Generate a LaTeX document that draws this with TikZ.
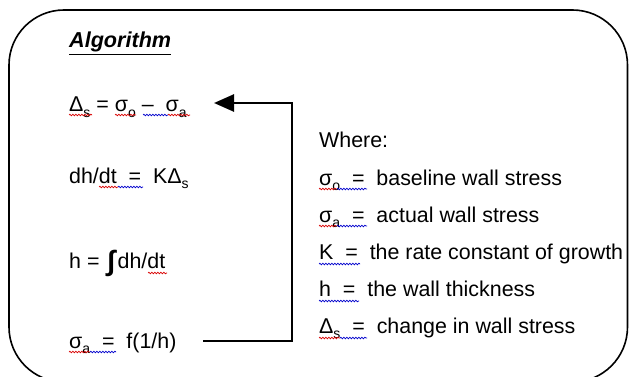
\documentclass[tikz,border=0pt]{standalone}
\usepackage{fontspec}
\setmainfont{Liberation Sans}
\usetikzlibrary{decorations.pathmorphing,arrows.meta}
\newcommand{\sbs}[1]{\raisebox{-0.25em}{\fontsize{14}{14}\selectfont #1}}
\newcommand{\bigint}{\hspace{2pt}\raisebox{-0.12em}{\fontsize{28}{28}\selectfont\bfseries ∫}\hspace{2.5pt}}
\tikzset{
  txt/.style={anchor=base west, inner sep=0pt, font=\fontsize{21.4}{25}\selectfont},
  frame/.style={line width=1.6pt, rounded corners=55pt},
  loop/.style={line width=2.6pt, -{Triangle[length=20pt,width=17pt]}},
  sqr/.style={red!85!black, line width=0.7pt, decorate, decoration={snake, amplitude=0.8pt, segment length=3pt}},
  sqb/.style={blue!80!black, line width=0.7pt, decorate, decoration={snake, amplitude=0.8pt, segment length=3pt}}
}
\begin{document}
\begin{tikzpicture}[x=1pt,y=-1pt]
\useasboundingbox (0,0) rectangle (629,377);
\clip (0,0) rectangle (629,377);
\draw[frame] (9,10) rectangle (627.5,382);

% left column
\node[txt, font=\fontsize{21.6}{25}\selectfont\bfseries\itshape] (title) at (69,48) {\underline{Algorithm}};
\node[txt] (eqA) at (69,112) {Δ\sbs{s} = σ\sbs{o} – \ σ\sbs{a}};
\node[txt] (eqB) at (69,183) {dh/dt \ = \ KΔ\sbs{s}};
\node[txt] (eqC) at (69,268) {h = \bigint dh/dt};
\node[txt] (eqD) at (69,348) {σ\sbs{a} \ = \ f(1/h)};

% right column
\node[txt] (where) at (319,148) {Where:};
\node[txt] (defA) at (319,185) {σ\sbs{o} \ = \ baseline wall stress};
\node[txt] (defB) at (319,222) {σ\sbs{a} \ = \ actual wall stress};
\node[txt] (defC) at (319,259) {K \ = \ the rate constant of growth};
\node[txt] (defD) at (319,296) {h \ = \ the wall thickness};
\node[txt] (defE) at (319,333) {Δ\sbs{s} \ = \ change in wall stress};

% feedback connector
\coordinate (start) at (203,341);
\coordinate (bendA) at (292,341);
\coordinate (bendB) at (292,103);
\coordinate (tip) at (214,103);
\draw[loop] (start) -- (bendA) -- (bendB) -- (tip);

% spell-check squiggles
\draw[sqr] (69,115) -- (92,115);
\draw[sqr] (115,115) -- (136,115);
\draw[sqb] (143,115) -- (168,115);
\draw[sqr] (168,115) -- (190,115);
\draw[sqr] (99,187) -- (118,187);
\draw[sqb] (118,187) -- (143,187);
\draw[sqr] (148,273) -- (167,273);
\draw[sqr] (69,352) -- (90,352);
\draw[sqb] (90,352) -- (116,352);
\draw[sqr] (319,189) -- (337,189);
\draw[sqb] (337,189) -- (367,189);
\draw[sqr] (319,226) -- (337,226);
\draw[sqb] (337,226) -- (367,226);
\draw[sqb] (319,264) -- (360,264);
\draw[sqb] (319,301) -- (359,301);
\draw[sqr] (319,338) -- (340,338);
\draw[sqb] (340,338) -- (367,338);
\end{tikzpicture}
\end{document}
